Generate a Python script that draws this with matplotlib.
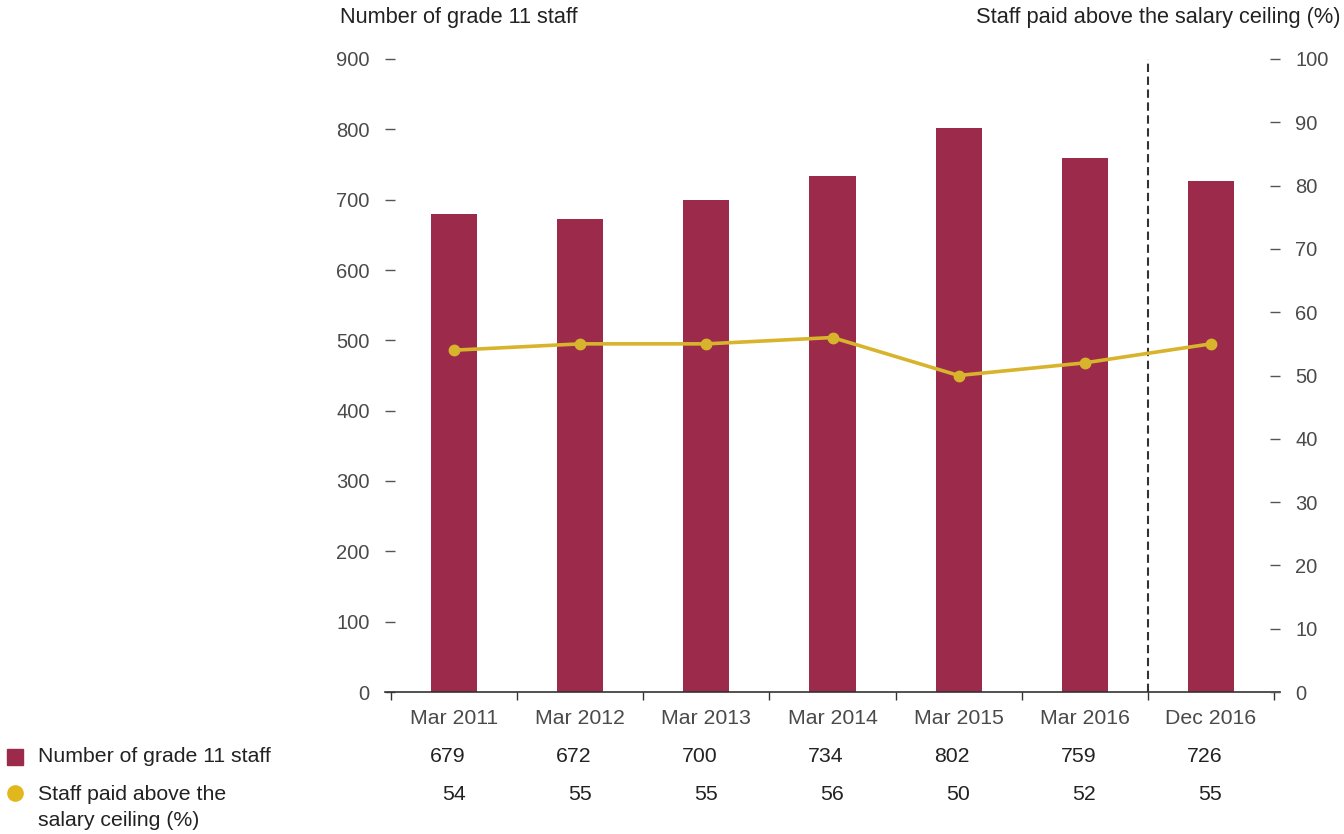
import matplotlib
matplotlib.use("Agg")
import matplotlib.pyplot as plt
from matplotlib.lines import Line2D
import numpy as np

plt.rcParams['font.family'] = ['Liberation Sans', 'DejaVu Sans']

periods = ["Mar 2011", "Mar 2012", "Mar 2013", "Mar 2014", "Mar 2015", "Mar 2016", "Dec 2016"]
staff_count = [679, 672, 700, 734, 802, 759, 726]
above_ceiling_pct = [54, 55, 55, 56, 50, 52, 55]
left_ticks = [0, 100, 200, 300, 400, 500, 600, 700, 800, 900]
right_ticks = [0, 10, 20, 30, 40, 50, 60, 70, 80, 90, 100]

BAR = "#9C2A4B"
GOLD = "#D8B42C"
TICK_TXT = "#4a4a4a"
DARK = "#222222"
FS = 15.3

W, H = 1344, 834
fig = plt.figure(figsize=(W / 100, H / 100), dpi=100)
ax = fig.add_axes([385 / W, 1 - 692 / H, (1280 - 385) / W, (692 - 59) / H])

x = np.arange(len(periods))
ax.bar(x, staff_count, width=0.365, color=BAR, zorder=2)

ext = 6 / 126
ax.set_xlim(-0.5 - ext, len(periods) - 0.5 + ext)
ax.set_ylim(0, 900)

for s in ("left", "right", "top"):
    ax.spines[s].set_visible(False)
ax.spines["bottom"].set_color("#333333")
ax.spines["bottom"].set_linewidth(1.2)

# category boundaries carry the x tick marks; names sit centred under each bar
ax.set_xticks(np.arange(-0.5, len(periods), 1.0))
ax.set_xticklabels([])
ax.tick_params(axis="x", direction="out", length=6, width=1, color="#333333")
for xi, lab in zip(x, periods):
    xf = ax.transData.transform((xi, 0))[0] / W
    fig.text(xf, 1 - 718 / H, lab, ha="center", va="center", fontsize=FS, color=TICK_TXT)

ax.set_yticks(left_ticks)
ax.set_yticklabels([str(v) for v in left_ticks])
ax.tick_params(axis="y", direction="in", length=7, width=1, color="#555555",
               labelsize=14.5, labelcolor=TICK_TXT, pad=11)

ax2 = ax.twinx()
ax2.set_ylim(0, 100)
for s in ("left", "right", "top", "bottom"):
    ax2.spines[s].set_visible(False)
ax2.set_yticks(right_ticks)
ax2.set_yticklabels([str(v) for v in right_ticks])
ax2.tick_params(axis="y", direction="in", length=7, width=1, color="#555555",
                labelsize=14.5, labelcolor=TICK_TXT, pad=11)
ax2.plot(x, above_ceiling_pct, color=GOLD, lw=2.6, marker="o", markersize=7.5,
         zorder=3, solid_capstyle="round")

ax.axvline(5.5, ymin=0, ymax=1, color="#333333", lw=1.5, dashes=(4.0, 2.2), zorder=1)

# axis titles
fig.text(340 / W, 1 - 18 / H, "Number of grade 11 staff", ha="left", va="center",
         fontsize=FS + 0.4, color=DARK)
fig.text(1340 / W, 1 - 18 / H, "Staff paid above the salary ceiling (%)", ha="right",
         va="center", fontsize=FS + 0.4, color=DARK)

# data table under the chart
for xi, v, p in zip(x, staff_count, above_ceiling_pct):
    xf = ax.transData.transform((xi + 0.09, 0))[0] / W
    fig.text(xf, 1 - 757 / H, str(v), ha="right", va="center", fontsize=FS, color=DARK)
    fig.text(xf, 1 - 794 / H, str(p), ha="right", va="center", fontsize=FS, color=DARK)

# legend rows
fig.add_artist(Line2D([15 / W], [1 - 757 / H], marker="s", markersize=11,
                      color=BAR, linestyle="none", transform=fig.transFigure))
fig.add_artist(Line2D([15 / W], [1 - 793 / H], marker="o", markersize=11,
                      color="#E0B81C", linestyle="none", transform=fig.transFigure))
fig.text(38 / W, 1 - 757 / H, "Number of grade 11 staff", ha="left", va="center",
         fontsize=FS, color=DARK)
fig.text(38 / W, 1 - 794 / H, "Staff paid above the", ha="left", va="center",
         fontsize=FS, color=DARK)
fig.text(38 / W, 1 - 821 / H, "salary ceiling (%)", ha="left", va="center",
         fontsize=FS, color=DARK)

fig.savefig("out.png", dpi=100)
